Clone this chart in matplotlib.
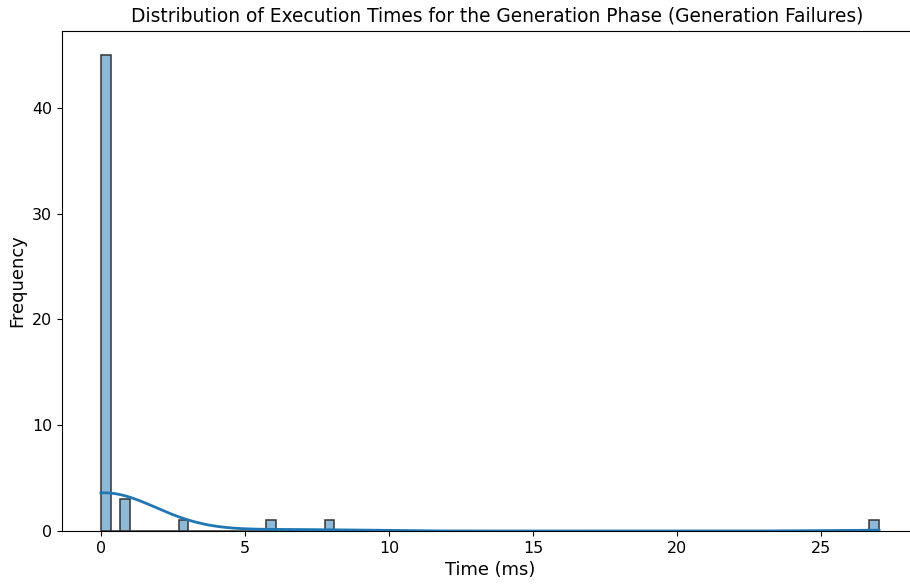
import numpy as np
import matplotlib
matplotlib.use("Agg")
import matplotlib.pyplot as plt
import seaborn as sns

# Execution times (ms) of the generation phase for runs that failed
fast_times = [
    0.00, 0.02, 0.03, 0.01, 0.04, 0.02, 0.05, 0.03, 0.02, 0.06,
    0.01, 0.03, 0.04, 0.02, 0.07, 0.03, 0.02, 0.05, 0.01, 0.04,
    0.03, 0.02, 0.06, 0.03, 0.04, 0.02, 0.01, 0.05, 0.03, 0.02,
    0.04, 0.03, 0.08, 0.02, 0.03, 0.01, 0.05, 0.04, 0.02, 0.03,
    0.06, 0.02, 0.04, 0.03, 0.10,
]
slow_times = [0.82, 0.88, 0.91, 2.86, 5.93, 7.91, 27.00]
times = np.array(fast_times + slow_times)

fig = plt.figure(figsize=(9.1, 5.87), dpi=100)
ax = fig.add_axes([62 / 910, 56 / 587, 856 / 910, 500 / 587])
sns.histplot(times, bins=80, kde=True, ax=ax, color="#1f77b4",
             edgecolor="#333333", linewidth=1.1, line_kws={"linewidth": 2.0})

ax.set_title("Distribution of Execution Times for the Generation Phase (Generation Failures)",
             fontsize=13.4, pad=7, x=0.508)
ax.set_xlabel("Time (ms)", fontsize=12.9)
ax.set_ylabel("Frequency", fontsize=12.9)
ax.tick_params(labelsize=11.4)

plt.savefig("out.png")
